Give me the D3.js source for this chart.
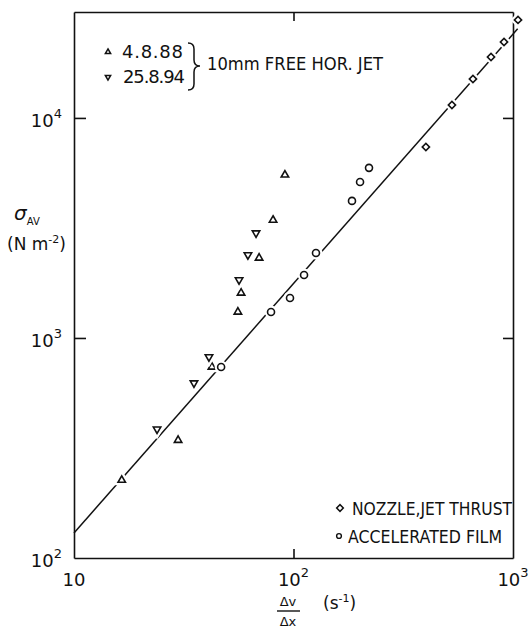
<!DOCTYPE html>
<html>
<head>
<meta charset="utf-8">
<script src="https://cdn.jsdelivr.net/npm/d3@7"></script>
<style>
  body { margin: 0; background: #fff; }
  text { font-family: 'DejaVu Sans', sans-serif; fill: #111; }
</style>
</head>
<body>
<div id="chart"></div>
<script>
// data
const upX = [16.5, 29.8, 42.5, 55.8, 57.7, 69.7, 80.7, 91.4]
const upY = [226, 343, 738, 1313, 1602, 2310, 3435, 5510]

const downX = [23.9, 35.2, 41.2, 56.5, 62.0, 67.5]
const downY = [385, 624, 820, 1835, 2384, 3000]

const filmX = [46.8, 79.0, 96.4, 111.7, 126.6, 184.7, 201, 220.8]
const filmY = [738, 1313, 1520, 1932, 2432, 4198, 5115, 5930]

const nozzleX = [401, 527, 657, 794, 910, 1054]
const nozzleY = [7380, 11460, 15040, 18930, 22150, 27900]

const fitX = [10, 1050]
const fitY = [130, 25400]

const xTicks = [10, 100, 1000]
const yTicks = [100, 1000, 10000]

let margin = { top: 12, left: 74, right: 16, bottom: 72 }
let width = 529 - margin.left - margin.right
let height = 630 - margin.top - margin.bottom

const x = d3.scaleLog().domain([10, 1000]).range([0, width])
const y = d3.scaleLog().domain([100, 30300]).range([height, 0])

let svg = d3.select('#chart')
  .append('svg')
  .attr('width', 529)
  .attr('height', 630)
  .append('g')
  .attr('transform', 'translate(' + margin.left + ',' + margin.top + ')')

// frame with inward ticks
svg.append('g')
  .attr('transform', 'translate(0,' + height + ')')
  .call(d3.axisBottom(x).tickValues([100]).tickSize(-9).tickSizeOuter(0).tickFormat(''))
svg.append('g')
  .call(d3.axisTop(x).tickValues([100]).tickSize(-9).tickSizeOuter(0).tickFormat(''))
svg.append('g')
  .call(d3.axisLeft(y).tickValues([1000, 10000]).tickSize(-12).tickSizeOuter(0).tickFormat(''))
svg.append('g')
  .attr('transform', 'translate(' + width + ',0)')
  .call(d3.axisRight(y).tickValues([1000, 10000]).tickSize(-10).tickSizeOuter(0).tickFormat(''))
svg.selectAll('.domain, .tick line').attr('stroke', '#111').attr('stroke-width', 1.6)

// tick labels, powers of ten
svg.selectAll('.xlab')
  .data(xTicks)
  .enter()
  .append('text')
  .attr('x', d => x(d))
  .attr('y', height + 28)
  .attr('text-anchor', 'middle')
  .attr('font-size', 18)
  .each(function(d) {
    const t = d3.select(this)
    t.append('tspan').text('10')
    const p = Math.round(Math.log10(d))
    if (p > 1) t.append('tspan').attr('dy', -9).attr('font-size', 13).text(p)
  })

svg.selectAll('.ylab')
  .data(yTicks)
  .enter()
  .append('text')
  .attr('x', -12)
  .attr('y', d => y(d) + 9)
  .attr('text-anchor', 'end')
  .attr('font-size', 18)
  .each(function(d) {
    const t = d3.select(this)
    t.append('tspan').text('10')
    t.append('tspan').attr('dy', -9).attr('font-size', 13).text(Math.round(Math.log10(d)))
  })

// axis titles
const yt = svg.append('text').attr('x', -60).attr('y', 208).attr('font-size', 20)
yt.append('tspan').attr('font-style', 'italic').text('σ')
yt.append('tspan').attr('dy', 5).attr('font-size', 10).text('AV')
const yu = svg.append('text').attr('x', -67).attr('y', 238).attr('font-size', 17)
yu.append('tspan').text('(N m')
yu.append('tspan').attr('dy', -7).attr('font-size', 11).text('-2')
yu.append('tspan').attr('dy', 7).text(')')

svg.append('text').attr('x', 214).attr('y', 594).attr('text-anchor', 'middle')
  .attr('font-size', 13).text('Δv')
svg.append('line').attr('x1', 203).attr('x2', 226).attr('y1', 599).attr('y2', 599)
  .attr('stroke', '#111').attr('stroke-width', 1.4)
svg.append('text').attr('x', 214).attr('y', 614).attr('text-anchor', 'middle')
  .attr('font-size', 13).text('Δx')
const xu = svg.append('text').attr('x', 249).attr('y', 597).attr('font-size', 17)
xu.append('tspan').text('(s')
xu.append('tspan').attr('dy', -7).attr('font-size', 11).text('-1')
xu.append('tspan').attr('dy', 7).text(')')

// fitted line
const line = d3.line().x(d => x(d[0])).y(d => y(d[1]))
svg.append('path')
  .datum(d3.zip(fitX, fitY))
  .attr('d', line)
  .attr('fill', 'none')
  .attr('stroke', '#111')
  .attr('stroke-width', 1.5)

const triUp = d3.symbol().type(d3.symbolTriangle).size(24)
const square = d3.symbol().type(d3.symbolSquare).size(26)

function markers(xs, ys, draw, cls) {
  const pts = d3.zip(xs, ys)
  const place = d => 'translate(' + x(d[0]) + ',' + y(d[1]) + ')' +
    (cls === 'down' ? ' rotate(180)' : cls === 'dia' ? ' rotate(45)' : '')
  // white knockout so the line breaks at each marker
  svg.selectAll('.ko-' + cls)
    .data(pts)
    .enter()
    .append('path')
    .attr('d', draw)
    .attr('transform', place)
    .attr('fill', '#fff')
    .attr('stroke', '#fff')
    .attr('stroke-width', 6)
  svg.selectAll('.m-' + cls)
    .data(pts)
    .enter()
    .append('path')
    .attr('d', draw)
    .attr('transform', place)
    .attr('fill', '#fff')
    .attr('stroke', '#111')
    .attr('stroke-width', 1.6)
}

markers(upX, upY, triUp, 'up')
markers(downX, downY, triUp, 'down')
markers(filmX, filmY, d3.arc()({ innerRadius: 0, outerRadius: 3.5, startAngle: 0, endAngle: 2 * Math.PI }), 'film')
markers(nozzleX, nozzleY, square, 'dia')

// legend, top left
const small = d3.symbol().type(d3.symbolTriangle).size(12)
svg.append('path').attr('d', small).attr('transform', 'translate(34,40)')
  .attr('fill', 'none').attr('stroke', '#111').attr('stroke-width', 1.5)
svg.append('path').attr('d', small).attr('transform', 'translate(34,65) rotate(180)')
  .attr('fill', 'none').attr('stroke', '#111').attr('stroke-width', 1.5)
svg.append('text').attr('x', 48).attr('y', 46).attr('font-size', 18)
  .attr('textLength', 61).attr('lengthAdjust', 'spacing').text('4.8.88')
svg.append('text').attr('x', 49).attr('y', 71).attr('font-size', 18)
  .attr('textLength', 62).attr('lengthAdjust', 'spacing').text('25.8.94')
svg.append('path')
  .attr('d', 'M114,31 Q120,31 120,37 L120,48 Q120,54 126,54 Q120,54 120,60 L120,72 Q120,78 114,78')
  .attr('fill', 'none').attr('stroke', '#111').attr('stroke-width', 1.5)
svg.append('text').attr('x', 133).attr('y', 58).attr('font-size', 18)
  .attr('textLength', 176).attr('lengthAdjust', 'spacingAndGlyphs').text('10mm FREE HOR. JET')

// legend, bottom right
svg.append('path').attr('d', d3.symbol().type(d3.symbolSquare).size(22))
  .attr('transform', 'translate(266,496) rotate(45)')
  .attr('fill', 'none').attr('stroke', '#111').attr('stroke-width', 1.5)
svg.append('circle').attr('cx', 265).attr('cy', 524).attr('r', 2.4)
  .attr('fill', 'none').attr('stroke', '#111').attr('stroke-width', 1.4)
svg.append('text').attr('x', 278).attr('y', 503).attr('font-size', 17)
  .attr('textLength', 160).attr('lengthAdjust', 'spacingAndGlyphs').text('NOZZLE,JET THRUST')
svg.append('text').attr('x', 274).attr('y', 531).attr('font-size', 17)
  .attr('textLength', 154).attr('lengthAdjust', 'spacingAndGlyphs').text('ACCELERATED FILM')
</script>
</body>
</html>
